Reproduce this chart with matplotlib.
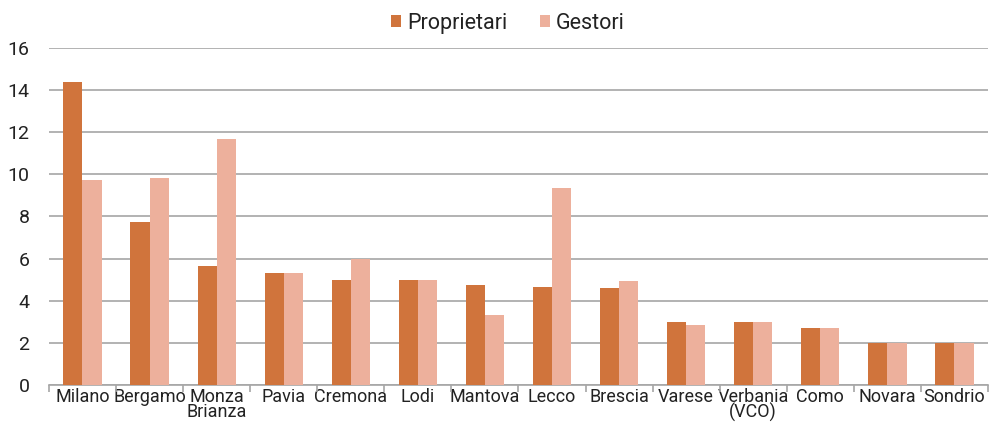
import matplotlib
matplotlib.use("Agg")
import matplotlib.pyplot as plt
import numpy as np

categories = ["Milano", "Bergamo", "Monza\nBrianza", "Pavia", "Cremona", "Lodi", "Mantova",
              "Lecco", "Brescia", "Varese", "Verbania\n(VCO)", "Como", "Novara", "Sondrio"]
proprietari = [14.4, 7.75, 5.65, 5.33, 5.0, 5.0, 4.75, 4.65, 4.6, 3.0, 3.0, 2.7, 2.0, 2.0]
gestori = [9.75, 9.83, 11.68, 5.33, 5.98, 5.0, 3.32, 9.35, 4.93, 2.87, 3.0, 2.7, 2.0, 2.0]

plt.rcParams['font.family'] = ['Roboto', 'DejaVu Sans']

fig = plt.figure(figsize=(9.89, 4.24), dpi=100)
ax = fig.add_axes([0.0495, 0.092, 0.9495, 0.795])

x = np.arange(len(categories))
w = 0.285
c1 = "#D0743C"
c2 = "#EDB09C"
ax.bar(x - w/2, proprietari, w, color=c1, label="Proprietari", zorder=3)
ax.bar(x + w/2, gestori, w, color=c2, label="Gestori", zorder=3)

ax.set_xlim(-0.5, len(categories) - 0.5)
ax.set_ylim(0, 16)
ax.set_yticks(range(0, 17, 2))
ax.yaxis.grid(True, color="#A6A6A6", linewidth=1.2, zorder=0)
ax.set_axisbelow(True)
for s in ["top", "right", "left"]:
    ax.spines[s].set_visible(False)
ax.spines["bottom"].set_color("#A6A6A6")
ax.spines["bottom"].set_linewidth(1.2)

ax.set_xticks(x)
ax.set_xticklabels(categories, fontsize=13, linespacing=0.8)
ax.set_xticks(np.arange(-0.5, len(categories), 1), minor=True)
ax.tick_params(axis="x", which="major", length=0, pad=2)
ax.tick_params(axis="x", which="minor", length=5, color="#A6A6A6", width=1.2)
ax.tick_params(axis="y", length=0, labelsize=14, pad=14, colors="#222222")
for lbl in ax.get_xticklabels():
    lbl.set_color("#222222")

leg = ax.legend(loc="lower center", bbox_to_anchor=(0.489, 1.0), ncol=2, frameon=False,
                fontsize=15.5, handlelength=0.45, handleheight=0.45, handletextpad=0.3,
                columnspacing=1.5, borderaxespad=0.25)
for t in leg.get_texts():
    t.set_color("#222222")

fig.savefig("out.png", dpi=100)
